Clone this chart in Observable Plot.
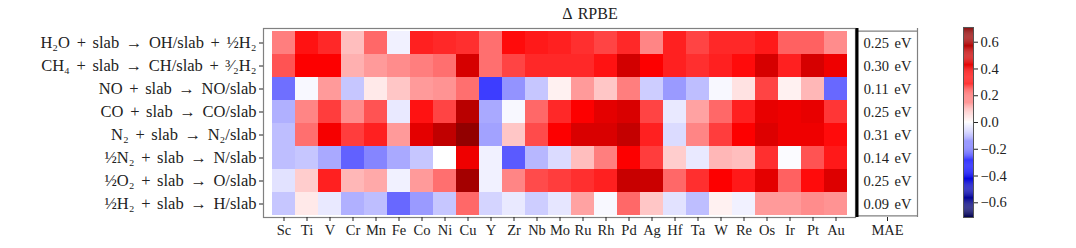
<!DOCTYPE html>
<html>
<head>
<meta charset="utf-8">
<script src="https://cdn.jsdelivr.net/npm/d3@7"></script>
<script src="https://cdn.jsdelivr.net/npm/@observablehq/plot@0.6"></script>
<style>
  html, body { margin: 0; padding: 0; background: #fff; }
  #root { position: relative; width: 1076px; height: 248px; font-family: "Liberation Serif", "DejaVu Serif", serif; }
  #root > div.p { position: absolute; top: 0; }
  #root svg text { font-family: "Liberation Serif", "DejaVu Serif", serif; }
  #title { position: absolute; top: 5px; left: 590px; transform: translateX(-50%); font-family: "Liberation Serif", serif; font-size: 16px; color: #222; white-space: nowrap; word-spacing: 2px; }
  #heat g[aria-label="y-axis tick label"] text { word-spacing: 2.5px; }
  #mae text { word-spacing: 2px; }
</style>
</head>
<body>
<div id="root">
  <div id="title">Δ RPBE</div>
  <div class="p" id="heat" style="left:0px"></div>
  <div class="p" id="mae" style="left:850px"></div>
  <div class="p" id="cbar" style="left:940px"></div>
</div>
<script>
const metals = ["Sc","Ti","V","Cr","Mn","Fe","Co","Ni","Cu","Y","Zr","Nb","Mo","Ru","Rh","Pd","Ag","Hf","Ta","W","Re","Os","Ir","Pt","Au"];
const reactions = [
  "H₂O + slab → OH/slab + ½H₂",
  "CH₄ + slab → CH/slab + ³⁄₂H₂",
  "NO + slab → NO/slab",
  "CO + slab → CO/slab",
  "N₂ + slab → N₂/slab",
  "½N₂ + slab → N/slab",
  "½O₂ + slab → O/slab",
  "½H₂ + slab → H/slab"
];
const rowH2O = [0.18,0.33,0.30,0.09,0.21,-0.02,0.31,0.30,0.29,0.20,0.34,0.32,0.31,0.29,0.26,0.30,0.17,0.31,0.26,0.30,0.30,0.32,0.22,0.22,0.16];
const rowCH4 = [0.24,0.36,0.36,0.11,0.14,0.16,0.18,0.20,0.47,0.20,0.26,0.30,0.30,0.30,0.33,0.48,0.36,0.31,0.29,0.31,0.34,0.47,0.31,0.47,0.40];
const rowNO  = [-0.20,-0.01,0.14,-0.08,0.03,0.08,0.14,0.15,0.20,-0.27,-0.15,-0.08,0.02,0.14,0.08,0.18,-0.07,-0.14,-0.09,-0.01,0.04,0.26,0.02,0.10,-0.21];
const rowCO  = [-0.11,0.17,0.27,0.16,0.24,-0.03,0.33,0.26,0.55,-0.12,-0.01,0.21,0.30,0.36,0.43,0.46,0.26,-0.03,0.13,0.21,0.31,0.42,0.40,0.42,0.28];
const rowN2  = [-0.09,0.20,0.38,0.27,0.31,0.14,0.43,0.53,0.66,-0.13,0.08,0.25,0.36,0.46,0.46,0.52,0.31,-0.05,0.17,0.27,0.36,0.45,0.40,0.40,0.34];
const rowN   = [-0.09,-0.08,-0.12,-0.22,-0.17,-0.12,-0.08,0.00,0.40,-0.02,-0.23,-0.10,-0.05,0.09,0.18,0.36,0.27,0.07,-0.03,0.10,0.09,0.29,-0.005,0.24,0.32];
const rowO   = [-0.04,0.07,0.31,0.10,0.12,-0.02,0.14,0.20,0.61,-0.02,0.17,0.25,0.27,0.29,0.31,0.51,0.50,0.21,0.29,0.36,0.32,0.43,0.22,0.34,0.45];
const rowH   = [-0.08,0.03,-0.03,-0.11,-0.09,-0.21,-0.14,-0.08,0.21,-0.06,-0.03,-0.07,-0.035,0.13,-0.01,0.21,0.08,-0.04,-0.09,0.02,-0.02,0.14,0.14,0.16,0.15];
const maeLabels = ["0.25 eV","0.30 eV","0.11 eV","0.25 eV","0.31 eV","0.14 eV","0.25 eV","0.09 eV"];
const cbarTicks = [-0.6,-0.4,-0.2,0.0,0.2,0.4,0.6];
const VMAX = 0.71;

const rows = [rowH2O,rowCH4,rowNO,rowCO,rowN2,rowN,rowO,rowH];
const cells = [];
rows.forEach((r,i) => r.forEach((v,j) => cells.push({reaction: reactions[i], metal: metals[j], value: v})));
const maeData = reactions.map((r,i) => ({reaction: r, label: maeLabels[i]}));

const seismic = d3.piecewise(d3.interpolateRgb, ["rgb(0,0,77)","rgb(0,0,255)","rgb(255,255,255)","rgb(255,0,0)","rgb(128,0,0)"]);
const colorScale = {type: "linear", domain: [-VMAX, VMAX], interpolate: seismic};
const fontFam = '"Liberation Serif", "DejaVu Serif", serif';

const heat = Plot.plot({
  width: 862, height: 248,
  marginLeft: 263, marginRight: 7, marginTop: 28, marginBottom: 31,
  style: {fontFamily: fontFam, fontSize: "14px", background: "transparent", color: "#222"},
  x: {domain: metals, padding: 0, label: null},
  y: {domain: reactions, padding: 0, label: null},
  color: colorScale,
  marks: [
    Plot.cell(cells, {x: "metal", y: "reaction", fill: "value", inset: 0}),
    Plot.frame({stroke: "#808080", strokeWidth: 1.2}),
    Plot.axisX({tickSize: 4, tickPadding: 3, fontSize: 14.5, fontFamily: fontFam, label: null}),
    Plot.axisY({tickSize: 4, tickPadding: 3, fontSize: 16.5, fontFamily: fontFam, label: null})
  ]
});
document.getElementById("heat").appendChild(heat);

const mae = Plot.plot({
  width: 72, height: 248,
  marginLeft: 7, marginRight: 5, marginTop: 28, marginBottom: 31,
  style: {fontFamily: fontFam, fontSize: "14px", background: "transparent", color: "#222", overflow: "visible"},
  x: {domain: [0, 1], label: null},
  y: {type: "band", domain: reactions, padding: 0, label: null, axis: null},
  marks: [
    Plot.ruleX([1], {stroke: "#808080", strokeWidth: 1.2}),
    Plot.ruleY([0], {y: () => reactions[0], stroke: "#808080", strokeWidth: 1.2, dy: -11.8}),
    Plot.ruleY([0], {y: () => reactions[reactions.length - 1], stroke: "#808080", strokeWidth: 1.2, dy: 11.8}),
    Plot.ruleX([0], {stroke: "black", strokeWidth: 3, dx: -0.5}),
    Plot.text(maeData, {x: () => 0.5, y: "reaction", text: "label", fontSize: 14.5, fontFamily: fontFam, fill: "#222"}),
    Plot.axisX({ticks: [0.5], tickFormat: () => "MAE", tickSize: 4, tickPadding: 3, fontSize: 14.5, fontFamily: fontFam, label: null})
  ]
});
document.getElementById("mae").appendChild(mae);

const step = VMAX / 100;
const ramp = d3.range(-VMAX, VMAX - step / 2, step);
const cbar = Plot.plot({
  width: 136, height: 248,
  marginLeft: 23, marginRight: 103, marginTop: 27, marginBottom: 31,
  style: {fontFamily: fontFam, fontSize: "14px", background: "transparent", color: "#222"},
  x: {domain: [0, 1], axis: null},
  y: {domain: [-VMAX, VMAX], label: null},
  color: colorScale,
  marks: [
    Plot.rect(ramp, {x1: 0, x2: 1, y1: d => d, y2: d => d + step * 1.02, fill: d => d + step / 2}),
    Plot.frame({stroke: "#555", strokeWidth: 1}),
    Plot.axisY({anchor: "right", ticks: cbarTicks, tickSize: 4, tickPadding: 3, fontSize: 14.5, fontFamily: fontFam, label: null,
      tickFormat: d => (d < -1e-9 ? "−" : "") + Math.abs(d).toFixed(1)})
  ]
});
document.getElementById("cbar").appendChild(cbar);
</script>
</body>
</html>
